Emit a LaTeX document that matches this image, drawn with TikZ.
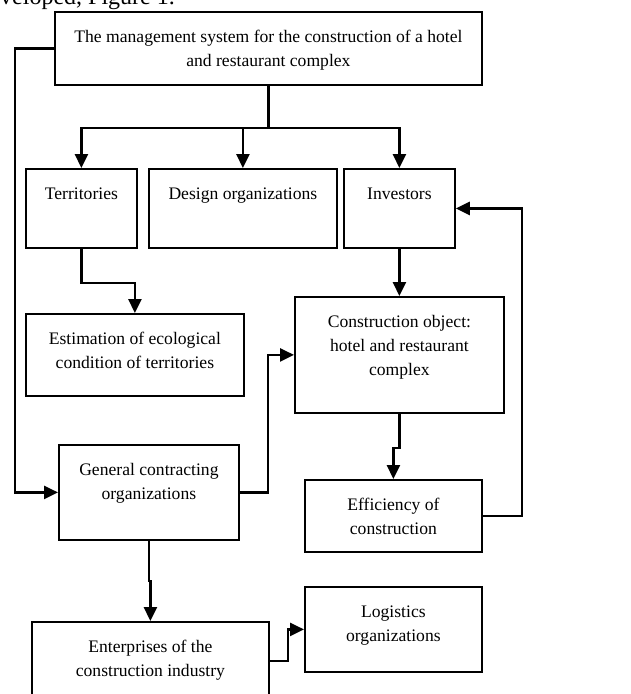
\documentclass[tikz,border=0pt]{standalone}
\usepackage{fontspec}
\setmainfont{Liberation Serif}
\usetikzlibrary{arrows.meta}

\begin{document}
\begin{tikzpicture}[%
    x=1pt, y=-1pt,              % Layout in points, measured top-down
    every node/.style={inner sep=0pt},
    ]
% -------------------------------------------------
% Box and connector styles
% <text height> puts the last text line of a box in place,
% <text depth> then fixes the height of each box
\tikzset{
  node font=\fontsize{17.6}{24}\selectfont,
  base/.style={draw, line width=1.8pt, align=center, anchor=north west},
  proc/.style={base, text height=31pt},    % one line of text
  proc2/.style={base, text height=55pt},   % two lines
  proc3/.style={base, text height=79pt},   % three lines
  % -------------------------------------------------
  norm/.style={draw, line width=2.6pt},
  flow/.style={norm, -{Triangle[length=14pt,width=13pt]}},
}
\useasboundingbox (0,0) rectangle (630,694);
% -------------------------------------------------
% Text of the page above the figure
\node [anchor=base west, font=\fontsize{24}{28}\selectfont] (cap) at (0,4) {veloped, Figure 1.};
% -------------------------------------------------
% Start by placing the boxes
\node [proc2, minimum width=427pt, text depth=18pt] (sys) at (54,11)
  {The management system for the construction of a hotel\\ and restaurant complex};
\node [proc, minimum width=111pt, text depth=48pt] (terr) at (25,168) {Territories};
\node [proc, minimum width=188pt, text depth=48pt] (design) at (148,168) {Design organizations};
\node [proc, minimum width=111pt, text depth=48pt] (invest) at (343,168) {Investors};
\node [proc2, minimum width=218pt, text depth=27pt] (ecol) at (25,313)
  {Estimation of ecological\\ condition of territories};
\node [proc3, minimum width=209pt, text depth=37pt] (object) at (294,296)
  {Construction object:\\ hotel and restaurant\\ complex};
\node [proc2, minimum width=180pt, text depth=40pt] (gencon) at (58,444)
  {General contracting\\ organizations};
\node [proc2, minimum width=177pt, text depth=17pt] (effic) at (304,479)
  {Efficiency of\\ construction};
\node [proc2, minimum width=237pt, text depth=23pt] (enterp) at (31,621)
  {Enterprises of the\\ construction industry};
\node [proc2, minimum width=177pt, text depth=30pt] (logist) at (304,586)
  {Logistics\\ organizations};
% -------------------------------------------------
% Coordinate for the branching under the top box
\path (sys.south) ++(0,42) coordinate (fork);
% -------------------------------------------------
% Now the connectors
\draw [norm] (sys.south) -- (fork);
\draw [flow] (fork) -| (terr.north);
\draw [flow] (fork) -| (design.north);
\draw [flow] (fork) -| (invest.north);
\draw [flow] (sys.west) -- ++(-39,0) |- (gencon.west);
\draw [flow] (terr.south) -- ++(0,34) -| (ecol.north);
\draw [flow] (invest.south) -- (object.north);
\draw [flow] (gencon.east) -- ++(28,0) |- (object.west);
\draw [flow] (object.south) -- ++(0,34) -| (effic.north);
\draw [flow] (effic.east) -- ++(39,0) |- (invest.east);
\draw [flow] (gencon.south) -- ++(0,40) -| (enterp.north);
\draw [flow] (enterp.east) -- ++(18,0) |- (logist.west);
% -------------------------------------------------
\end{tikzpicture}
\end{document}
